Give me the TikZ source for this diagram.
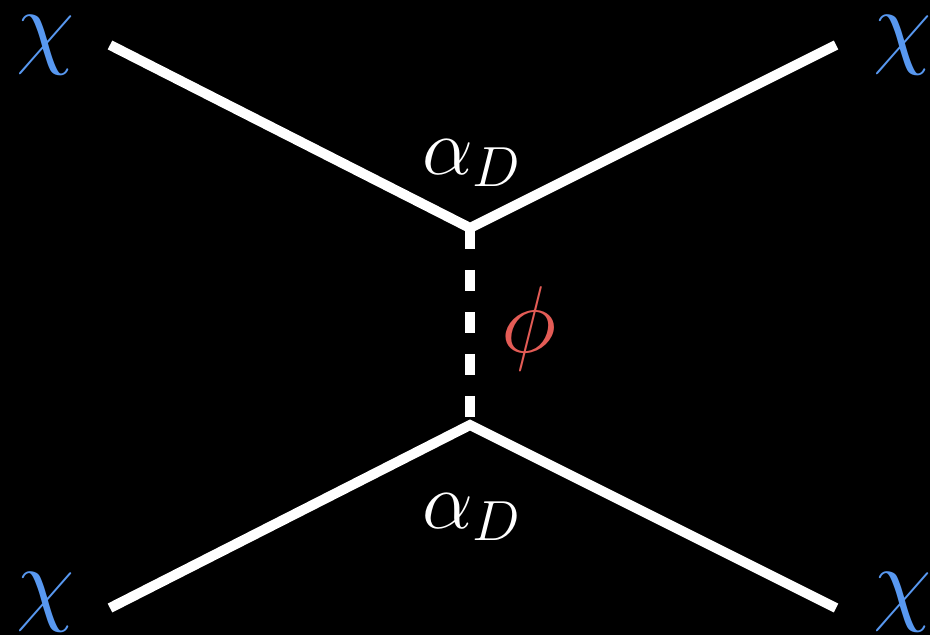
\RequirePackage{fix-cm}
\documentclass[tikz,border=0pt]{standalone}
\definecolor{dmblue}{RGB}{88,152,240}
\definecolor{dmred}{RGB}{228,92,86}
\usetikzlibrary{positioning}
\tikzset{
  fermion/.style={draw=white, line width=0.2cm},
  mediator/.style={draw=white, line width=0.2cm, dash pattern=on 0.42cm off 0.42cm},
  bigmath/.style={font=\fontsize{54pt}{60pt}\selectfont, inner sep=0pt},
  coupling/.style={font=\fontsize{46pt}{52pt}\selectfont, text=white, inner sep=0pt}
}

\begin{document}
\begin{tikzpicture}
  \useasboundingbox (0,0) rectangle (18.6,12.7);
  \fill[black] (0,0) rectangle (18.6,12.7);
  %% vertices and external legs
  \coordinate (vtop) at (9.4,8.14);
  \coordinate (vbot) at (9.4,4.2);
  \coordinate (tl) at (2.2,11.8);
  \coordinate (tr) at (16.72,11.8);
  \coordinate (bl) at (2.2,0.54);
  \coordinate (br) at (16.72,0.54);
  %% lines
  \draw[fermion] (tl) -- (vtop) -- (tr);
  \draw[fermion] (bl) -- (vbot) -- (br);
  \draw[mediator] (vtop) -- (vbot);
  %% labels
  \node[bigmath, text=dmblue] (chitl) at (0.92,11.8) {$\chi$};
  \node[bigmath, text=dmblue] (chitr) at (18.06,11.8) {$\chi$};
  \node[bigmath, text=dmblue] (chibl) at (0.92,0.66) {$\chi$};
  \node[bigmath, text=dmblue] (chibr) at (18.06,0.66) {$\chi$};
  \node[coupling] (atop) at (9.44,9.44) {$\alpha_D$};
  \node[coupling] (abot) at (9.44,2.36) {$\alpha_D$};
  \node[bigmath, text=dmred] (phi) at (10.58,6.12) {$\phi$};
\end{tikzpicture}
\end{document}
